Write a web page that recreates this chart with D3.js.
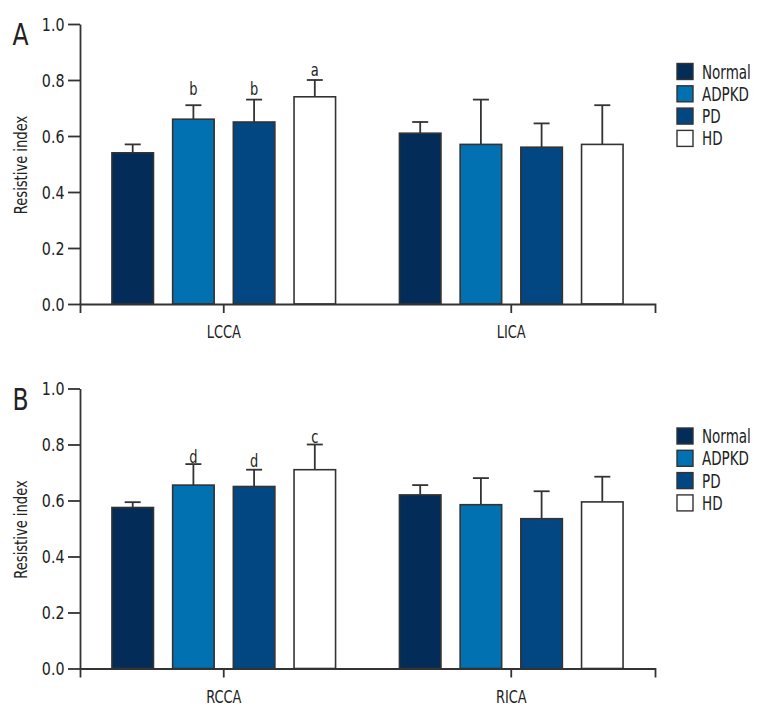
<!DOCTYPE html>
<html>
<head>
<meta charset="utf-8">
<script src="https://cdn.jsdelivr.net/npm/d3@7"></script>
<style>
  body { margin: 0; background: #fff; }
  svg { display: block; }
  text { font-family: "DejaVu Sans Condensed", "DejaVu Sans", sans-serif; font-stretch: condensed; fill: #222; }
</style>
</head>
<body>
<svg id="chart" width="760" height="720"></svg>
<script>
// ---- data ----
const groups = ["Normal", "ADPKD", "PD", "HD"];
const colors = ["#032d58", "#0271b2", "#034782", "#ffffff"];
const yTicks = [0.0, 0.2, 0.4, 0.6, 0.8, 1.0];

const panelLabels = ["A", "B"];
const panelCategories = [["LCCA", "LICA"], ["RCCA", "RICA"]];

// means [category][group]
const meansA = [[0.54, 0.66, 0.65, 0.74], [0.61, 0.57, 0.56, 0.57]];
const errTopA = [[0.57, 0.71, 0.73, 0.80], [0.65, 0.73, 0.645, 0.71]];
const meansB = [[0.575, 0.655, 0.65, 0.71], [0.62, 0.585, 0.535, 0.595]];
const errTopB = [[0.594, 0.73, 0.71, 0.80], [0.655, 0.68, 0.633, 0.685]];

// significance letters: [category index, group index, letter, y-value of baseline]
const lettersA = [[0, 1, "b", 0.746], [0, 2, "b", 0.746], [0, 3, "a", 0.814]];
const lettersB = [[0, 1, "d", 0.733], [0, 2, "d", 0.718], [0, 3, "c", 0.804]];

const panels = [
  { label: panelLabels[0], cats: panelCategories[0], means: meansA, err: errTopA, letters: lettersA, top: 24 },
  { label: panelLabels[1], cats: panelCategories[1], means: meansB, err: errTopB, letters: lettersB, top: 388.5 }
];

const svg = d3.select("#chart");
const stroke = "#333";
const left = 80, right = 655, plotH = 280;

// condensed text helper
function stext(parent, x, y, str, size, sx, anchor, rot) {
  return parent.append("text")
    .attr("transform", `translate(${x},${y})` + (rot ? ` rotate(${rot})` : "") + ` scale(${sx},1)`)
    .attr("text-anchor", anchor || "start")
    .attr("font-size", size)
    .text(str);
}

panels.forEach(p => {
  const g = svg.append("g");
  const y = d3.scaleLinear().domain([0, 1]).range([p.top + plotH, p.top]);
  const x = d3.scaleBand().domain(p.cats).range([left, right]).padding(0);
  const half = 121.4;
  const xi = d3.scaleBand().domain(groups).range([-half, half]).paddingInner(0.316).paddingOuter(0.158);

  // bars
  p.cats.forEach((c, ci) => {
    const cx = x(c) + x.bandwidth() / 2;
    groups.forEach((gr, gi) => {
      const bx = cx + xi(gr);
      const bw = xi.bandwidth();
      const m = p.means[ci][gi];
      const e = p.err[ci][gi];
      g.append("line").attr("x1", bx + bw / 2).attr("x2", bx + bw / 2)
        .attr("y1", y(m)).attr("y2", y(e)).attr("stroke", stroke).attr("stroke-width", 1.8);
      g.append("line").attr("x1", bx + bw / 2 - 8).attr("x2", bx + bw / 2 + 8)
        .attr("y1", y(e)).attr("y2", y(e)).attr("stroke", stroke).attr("stroke-width", 1.8);
      g.append("rect").attr("x", bx).attr("y", y(m))
        .attr("width", bw).attr("height", y(0) - y(m))
        .attr("fill", colors[gi]).attr("stroke", stroke).attr("stroke-width", 1.6);
    });
  });

  // letters
  p.letters.forEach(([ci, gi, t, v]) => {
    const cx = x(p.cats[ci]) + x.bandwidth() / 2 + xi(groups[gi]) + xi.bandwidth() / 2;
    stext(g, cx, y(v), t, 17, 0.85, "middle");
  });

  // y axis
  const ya = g.append("g").attr("transform", `translate(${left},0)`)
    .call(d3.axisLeft(y).tickValues(yTicks).tickFormat("").tickSize(12).tickSizeOuter(0));
  ya.selectAll("path, line").attr("stroke", stroke).attr("stroke-width", 1.8);
  yTicks.forEach(v => stext(g, 64.5, y(v) + 6.5, d3.format(".1f")(v), 18, 0.88, "end"));

  // x axis
  const xa = g.append("g").attr("transform", `translate(0,${y(0)})`)
    .call(d3.axisBottom(x).tickSize(9).tickSizeOuter(9).tickFormat(""));
  xa.selectAll("path, line").attr("stroke", stroke).attr("stroke-width", 1.8);
  p.cats.forEach(c => stext(g, x(c) + x.bandwidth() / 2, y(0) + 34, c, 18, 0.8, "middle"));

  // y label
  stext(g, 27, p.top + plotH / 2 + 1, "Resistive index", 18, 0.81, "middle", -90);

  // panel letter
  stext(g, 12.5, p.top + 21, p.label, 30, 0.87, "start");

  // legend
  const lg = g.append("g").attr("transform", `translate(677,${p.top + 39.5})`);
  groups.forEach((gr, gi) => {
    lg.append("rect").attr("x", 0).attr("y", gi * 22.3).attr("width", 16).attr("height", 16)
      .attr("fill", colors[gi]).attr("stroke", stroke).attr("stroke-width", 1.4);
    stext(lg, 25, gi * 22.3 + 15, gr, 19, 0.79, "start");
  });
});
</script>
</body>
</html>
